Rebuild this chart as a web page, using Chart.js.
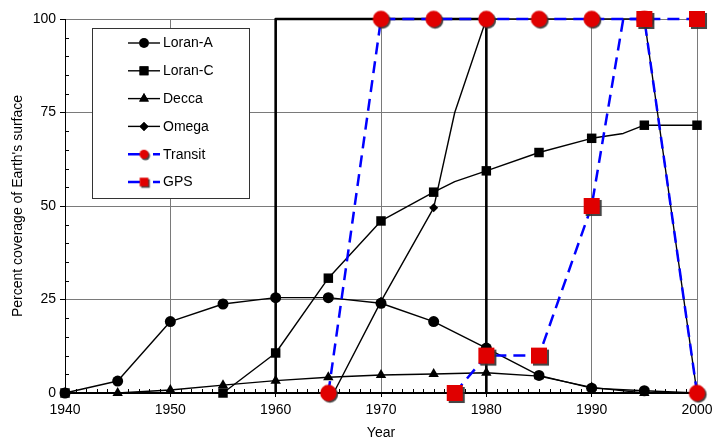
<!DOCTYPE html>
<html><head><meta charset="utf-8">
<script src="https://cdn.jsdelivr.net/npm/chart.js@4/dist/chart.umd.min.js"></script>
<style>html,body{margin:0;padding:0;background:#fff}canvas{display:block}</style>
</head><body>
<canvas id="c" width="714" height="444" style="width:714px;height:444px"></canvas>
<script>
// ---- data ----
const seriesNames = ['Loran-A', 'Loran-C', 'Decca', 'Omega', 'Transit', 'GPS'];
const loranAYears = [1940, 1945, 1950, 1955, 1960, 1965, 1970, 1975, 1980, 1985, 1990, 1995, 2000];
const loranAValues = [0, 3.2, 19.1, 23.8, 25.5, 25.5, 24, 19.1, 12, 4.7, 1.3, 0.6, 0];
const loranCYears = [1940, 1955, 1960, 1965, 1970, 1975, 1977, 1980, 1985, 1990, 1993, 1995, 2000];
const loranCValues = [0, 0, 10.7, 30.7, 46, 53.7, 56.5, 59.4, 64.3, 68.1, 69.4, 71.6, 71.6];
const deccaYears = [1940, 1945, 1950, 1955, 1960, 1965, 1970, 1975, 1980, 1985, 1990, 1995, 2000];
const deccaValues = [0, 0, 0.8, 2.1, 3.3, 4.2, 4.8, 5.1, 5.4, 4.5, 1.5, 0, 0];
const omegaYears = [1965.5, 1970, 1975, 1977, 1980, 1985, 1990, 1995, 2000];
const omegaValues = [0, 24.5, 49.5, 75, 100, 100, 100, 100, 0];
const transitYears = [1965, 1970, 1975, 1980, 1985, 1990, 1995, 2000];
const transitValues = [0, 100, 100, 100, 100, 100, 100, 0];
const gpsYears = [1977, 1980, 1985, 1990, 1993, 1995, 2000];
const gpsValues = [0, 10, 10, 50, 100, 100, 100];
const periodYears = [1960, 1960, 1980, 1980];
const periodValues = [0, 100, 100, 0];
const xLimits = [1940, 2000];
const yLimits = [0, 100];
const xTitle = 'Year';
const yTitle = "Percent coverage of Earth's surface";

// ---- helpers ----
const FONT = '"Liberation Sans", Arial, sans-serif';
function pts(xs, ys) { return xs.map((x, i) => ({ x: x, y: ys[i] })); }
// markers sit on the surveyed 5-year points; extra break points carry none
function markerRadius(r, firstToo) {
  return function (ctx) {
    const raw = ctx.raw; if (!raw) return 0;
    if (raw.x % 5 === 0) return r;
    if (firstToo && ctx.dataIndex === 0) return r;
    return 0;
  };
}
function makeMarker(shape, half) {
  const pad = 3, d = Math.ceil((half + pad) * 2);
  const c = document.createElement('canvas'); c.width = d; c.height = d;
  const g = c.getContext('2d'); const cx = d / 2, cy = d / 2;
  g.shadowColor = 'rgba(50,50,50,0.9)'; g.shadowOffsetX = 1.5; g.shadowOffsetY = 1.5; g.shadowBlur = 0.5;
  g.fillStyle = '#e00000';
  g.beginPath();
  if (shape === 'circle') g.arc(cx, cy, half, 0, Math.PI * 2); else g.rect(cx - half, cy - half, half * 2, half * 2);
  g.fill();
  return c;
}
const redCircle = makeMarker('circle', 8.2);
const redSquare = makeMarker('square', 8);
const redCircleSmall = makeMarker('circle', 4.5);
const redSquareSmall = makeMarker('square', 4.3);

const blackLine = { borderColor: '#000', borderWidth: 1.4, pointBackgroundColor: '#000', pointBorderColor: '#000', pointBorderWidth: 0, tension: 0, clip: false, fill: false };
const blueLine = { borderColor: '#0000ff', borderWidth: 2.5, borderDash: [12, 7], pointBorderWidth: 0, tension: 0, clip: false, fill: false };

const datasets = [
  Object.assign({ label: seriesNames[0], data: pts(loranAYears, loranAValues), pointStyle: 'circle', pointRadius: markerRadius(5.5), order: 2 }, blackLine),
  Object.assign({ label: seriesNames[1], data: pts(loranCYears, loranCValues), pointStyle: 'rect', pointRadius: markerRadius(6.7), order: 3 }, blackLine),
  Object.assign({ label: seriesNames[2], data: pts(deccaYears, deccaValues), pointStyle: 'triangle', pointRadius: markerRadius(6), order: 4 }, blackLine),
  Object.assign({ label: seriesNames[3], data: pts(omegaYears, omegaValues), pointStyle: 'rectRot', pointRadius: markerRadius(4.5), order: 5 }, blackLine),
  Object.assign({ label: seriesNames[4], data: pts(transitYears, transitValues), pointStyle: redCircle, pointRadius: markerRadius(8), order: 1, legendMarker: redCircleSmall }, blueLine),
  Object.assign({ label: seriesNames[5], data: pts(gpsYears, gpsValues), pointStyle: redSquare, pointRadius: markerRadius(8, true), order: 0, legendMarker: redSquareSmall }, blueLine),
  { label: '', data: pts(periodYears, periodValues), borderColor: '#000', borderWidth: 2.6, pointRadius: 0, tension: 0, clip: false, fill: false, order: 6, noLegend: true }
];

// minor tick marks (yearly on x, every 5 % on y) placed through the scales
const minorTicks = {
  id: 'minorTicks',
  beforeDatasetsDraw(chart) {
    const ctx = chart.ctx, xs = chart.scales.x, ys = chart.scales.y;
    ctx.save(); ctx.strokeStyle = '#000'; ctx.lineWidth = 1;
    const yb = Math.round(ys.getPixelForValue(yLimits[0]));
    for (let v = xLimits[0] + 1; v < xLimits[1]; v++) {
      if (v % 10 === 0) continue;
      const px = Math.round(xs.getPixelForValue(v)) + 0.5;
      ctx.beginPath(); ctx.moveTo(px, yb); ctx.lineTo(px, yb - 4); ctx.stroke();
    }
    const xl = Math.round(xs.getPixelForValue(xLimits[0]));
    for (let v = yLimits[0] + 5; v < yLimits[1]; v += 5) {
      if (v % 25 === 0) continue;
      const py = Math.round(ys.getPixelForValue(v)) + 0.5;
      ctx.beginPath(); ctx.moveTo(xl, py); ctx.lineTo(xl + 4, py); ctx.stroke();
    }
    ctx.restore();
  }
};

// boxed legend inside the plot area
const boxLegend = {
  id: 'boxLegend',
  afterDraw(chart) {
    const ctx = chart.ctx;
    const bx = 92.5, by = 28.5, bw = 157, bh = 170;
    ctx.save();
    ctx.fillStyle = '#fff'; ctx.fillRect(bx, by, bw, bh);
    ctx.strokeStyle = '#333'; ctx.lineWidth = 1; ctx.setLineDash([]); ctx.strokeRect(bx, by, bw, bh);
    let row = 0;
    chart.data.datasets.forEach((ds) => {
      if (ds.noLegend) return;
      const y = 43 + row * 27.8; row++;
      const x1 = 128, x2 = 160, mx = 144;
      ctx.strokeStyle = ds.borderColor; ctx.lineWidth = ds.borderDash ? 2.5 : 1.4;
      ctx.beginPath();
      if (ds.borderDash) { ctx.moveTo(x1, y); ctx.lineTo(140, y); ctx.moveTo(153, y); ctx.lineTo(x2, y); }
      else { ctx.moveTo(x1, y); ctx.lineTo(x2, y); }
      ctx.stroke();
      if (ds.legendMarker) {
        const m = ds.legendMarker; ctx.drawImage(m, mx - m.width / 2, y - m.height / 2);
      } else {
        Chart.helpers.drawPoint(ctx, { pointStyle: ds.pointStyle, radius: ds.pointStyle === 'circle' ? 5 : ds.pointStyle === 'rect' ? 6.3 : ds.pointStyle === 'triangle' ? 5.6 : 4.5, rotation: 0, borderWidth: 0, backgroundColor: '#000', borderColor: '#000' }, mx, y);
        ctx.fillStyle = '#000'; ctx.fill();
      }
      ctx.fillStyle = '#000'; ctx.font = '14px ' + FONT; ctx.textBaseline = 'middle'; ctx.textAlign = 'left';
      ctx.fillText(ds.label, 163, y + 0.5);
    });
    ctx.restore();
  }
};

new Chart(document.getElementById('c'), {
  type: 'line',
  data: { datasets: datasets },
  plugins: [minorTicks, boxLegend],
  options: {
    responsive: false, animation: false, devicePixelRatio: 1,
    layout: { padding: { top: 19, right: 17, left: 0, bottom: 0 } },
    plugins: { legend: { display: false }, tooltip: { enabled: false } },
    elements: { line: { borderJoinStyle: 'round' } },
    scales: {
      x: {
        type: 'linear', min: xLimits[0], max: xLimits[1],
        ticks: { stepSize: 10, color: '#000', font: { family: FONT, size: 14 }, padding: 5, maxRotation: 0, callback: v => String(v) },
        grid: { color: '#7a7a7a', lineWidth: 1, tickLength: 4, tickColor: '#000' },
        border: { color: '#000', width: 2 },
        title: { display: true, text: xTitle, color: '#000', font: { family: FONT, size: 14 }, padding: { top: 0, bottom: 2 } },
        afterFit(s) { s.height = 51; s.paddingLeft = 0; s.paddingRight = 0; }
      },
      y: {
        type: 'linear', min: yLimits[0], max: yLimits[1],
        ticks: { stepSize: 25, color: '#000', font: { family: FONT, size: 14 }, padding: 4 },
        grid: { color: '#7a7a7a', lineWidth: 1, tickLength: 5, tickColor: '#000' },
        border: { color: '#000', width: 1 },
        title: { display: true, text: yTitle, color: '#000', font: { family: FONT, size: 14 }, padding: { top: 10, bottom: 0 } },
        afterFit(s) { s.width = 65; s.paddingTop = 0; s.paddingBottom = 0; }
      }
    }
  }
});
</script>
</body></html>
